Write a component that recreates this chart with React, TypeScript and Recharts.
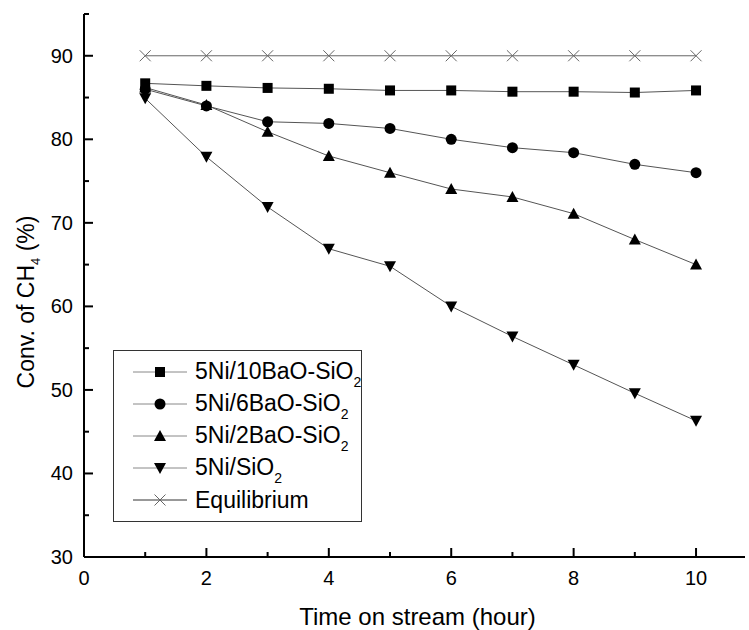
import React from 'react';
import { LineChart, Line, XAxis, YAxis, Legend } from 'recharts';

// Reaction time (hour)
const hours = [1, 2, 3, 4, 5, 6, 7, 8, 9, 10];

// CH4 conversion (%) per catalyst
const ni10BaO = [86.7, 86.4, 86.15, 86.05, 85.85, 85.85, 85.7, 85.7, 85.6, 85.85];
const ni6BaO = [86.0, 84.0, 82.1, 81.9, 81.3, 80.0, 79.0, 78.4, 77.0, 76.0];
const ni2BaO = [86.2, 84.1, 80.9, 78.0, 76.0, 74.05, 73.1, 71.1, 68.0, 65.0];
const niSiO2 = [84.9, 77.9, 71.9, 66.9, 64.8, 60.0, 56.4, 53.0, 49.6, 46.3];
const equilibrium = [90, 90, 90, 90, 90, 90, 90, 90, 90, 90];

const xTicks = [0, 1, 2, 3, 4, 5, 6, 7, 8, 9, 10];
const yTicks = [30, 35, 40, 45, 50, 55, 60, 65, 70, 75, 80, 85, 90, 95];

const FONT = '"Liberation Sans", Arial, sans-serif';

type Shape = 'square' | 'circle' | 'up' | 'down' | 'cross';

const SERIES: { key: string; base: string; sub?: string; shape: Shape }[] = [
  { key: 'ni10', base: '5Ni/10BaO-SiO', sub: '2', shape: 'square' },
  { key: 'ni6', base: '5Ni/6BaO-SiO', sub: '2', shape: 'circle' },
  { key: 'ni2', base: '5Ni/2BaO-SiO', sub: '2', shape: 'up' },
  { key: 'ni0', base: '5Ni/SiO', sub: '2', shape: 'down' },
  { key: 'eq', base: 'Equilibrium', shape: 'cross' },
];

const data = hours.map((h, i) => ({
  hour: h,
  ni10: ni10BaO[i],
  ni6: ni6BaO[i],
  ni2: ni2BaO[i],
  ni0: niSiO2[i],
  eq: equilibrium[i],
}));

function Marker({ shape, cx, cy }: { shape: Shape; cx: number; cy: number }) {
  switch (shape) {
    case 'square':
      return <rect x={cx - 5} y={cy - 5} width={10} height={10} fill="#000" />;
    case 'circle':
      return <circle cx={cx} cy={cy} r={5.5} fill="#000" />;
    case 'up':
      return <polygon points={`${cx - 6},${cy + 5} ${cx + 6},${cy + 5} ${cx},${cy - 6}`} fill="#000" />;
    case 'down':
      return <polygon points={`${cx - 6},${cy - 5} ${cx + 6},${cy - 5} ${cx},${cy + 6}`} fill="#000" />;
    default:
      return (
        <g stroke="#666" strokeWidth={1}>
          <line x1={cx - 5.5} y1={cy - 5.5} x2={cx + 5.5} y2={cy + 5.5} />
          <line x1={cx - 5.5} y1={cy + 5.5} x2={cx + 5.5} y2={cy - 5.5} />
        </g>
      );
  }
}

const makeDot = (shape: Shape) => (props: any) => (
  <g key={`${shape}-${props.index}`}>
    <Marker shape={shape} cx={props.cx} cy={props.cy} />
  </g>
);

const YTick = ({ x, y, payload }: any) => {
  const major = payload.value % 10 === 0 && payload.value !== 95;
  return (
    <g>
      <line x1={x} y1={y} x2={x + (major ? 9 : 5)} y2={y} stroke="#000" strokeWidth={2} />
      {major && (
        <text x={x - 11} y={y} dy={7} textAnchor="end" fontSize={20} fontFamily={FONT} fill="#000">
          {payload.value}
        </text>
      )}
    </g>
  );
};

const XTick = ({ x, y, payload }: any) => {
  const major = payload.value % 2 === 0;
  return (
    <g>
      <line x1={x} y1={y} x2={x} y2={y - (major ? 9 : 5)} stroke="#000" strokeWidth={2} />
      {major && (
        <text x={x} y={y + 28} textAnchor="middle" fontSize={20} fontFamily={FONT} fill="#000">
          {payload.value}
        </text>
      )}
    </g>
  );
};

const YTitle = () => (
  <text
    x={23}
    y={313}
    transform="rotate(-90, 23, 302)"
    textAnchor="middle"
    fontSize={23}
    fontFamily={FONT}
    fill="#000"
  >
    <tspan>Conv. of CH</tspan>
    <tspan dy={6} fontSize={13}>4</tspan>
    <tspan dy={-6}> (%)</tspan>
  </text>
);

const XTitle = ({ viewBox }: any) => (
  <text
    x={viewBox.x + viewBox.width / 2 + 3}
    y={625}
    textAnchor="middle"
    fontSize={24}
    fontFamily={FONT}
    fill="#000"
  >
    Time on stream (hour)
  </text>
);

const LegendBox = () => (
  <div
    style={{
      boxSizing: 'border-box',
      width: 249,
      height: 172,
      border: '1.5px solid #333',
      paddingTop: 5,
      fontFamily: FONT,
      fontSize: 23,
      color: '#000',
      background: '#fff',
    }}
  >
    {SERIES.map((s) => (
      <div key={s.key} style={{ display: 'flex', alignItems: 'center', height: 32 }}>
        <svg width={54} height={30} style={{ marginLeft: 19, flex: 'none' }}>
          <line x1={0} y1={15} x2={54} y2={15} stroke={s.shape === 'cross' ? '#333' : '#888'} strokeWidth={1} />
          <Marker shape={s.shape} cx={27} cy={15} />
        </svg>
        <span style={{ marginLeft: 8, whiteSpace: 'nowrap', lineHeight: '32px' }}>
          {s.base}
          {s.sub && <span style={{ fontSize: 14, position: 'relative', top: 8 }}>{s.sub}</span>}
        </span>
      </div>
    ))}
  </div>
);

export default function App() {
  return (
    <div style={{ position: 'absolute', left: 0, top: 0, background: '#fff' }}>
      <LineChart width={749} height={630} data={data} margin={{ top: 14, right: 4, bottom: 0, left: 0 }}>
        <XAxis
          dataKey="hour"
          type="number"
          domain={[0, 10.8]}
          ticks={xTicks}
          interval={0}
          tickSize={0}
          tickMargin={0}
          tickLine={false}
          tick={<XTick />}
          height={73}
          axisLine={{ stroke: '#000', strokeWidth: 2 }}
          label={<XTitle />}
        />
        <YAxis
          type="number"
          domain={[30, 95]}
          ticks={yTicks}
          interval={0}
          tickSize={0}
          tickMargin={0}
          tickLine={false}
          tick={<YTick />}
          width={84}
          axisLine={{ stroke: '#000', strokeWidth: 2 }}
          label={<YTitle />}
        />
        <Legend
          verticalAlign="middle"
          layout="horizontal"
          content={<LegendBox />}
          wrapperStyle={{ left: 113, top: 350, width: 249, height: 172 }}
        />
        <Line dataKey="eq" name="Equilibrium" stroke="#666" strokeWidth={1} dot={makeDot('cross')} isAnimationActive={false} />
        <Line dataKey="ni10" name="5Ni/10BaO-SiO2" stroke="#555" strokeWidth={1} dot={makeDot('square')} isAnimationActive={false} />
        <Line dataKey="ni6" name="5Ni/6BaO-SiO2" stroke="#555" strokeWidth={1} dot={makeDot('circle')} isAnimationActive={false} />
        <Line dataKey="ni2" name="5Ni/2BaO-SiO2" stroke="#555" strokeWidth={1} dot={makeDot('up')} isAnimationActive={false} />
        <Line dataKey="ni0" name="5Ni/SiO2" stroke="#555" strokeWidth={1} dot={makeDot('down')} isAnimationActive={false} />
      </LineChart>
    </div>
  );
}
